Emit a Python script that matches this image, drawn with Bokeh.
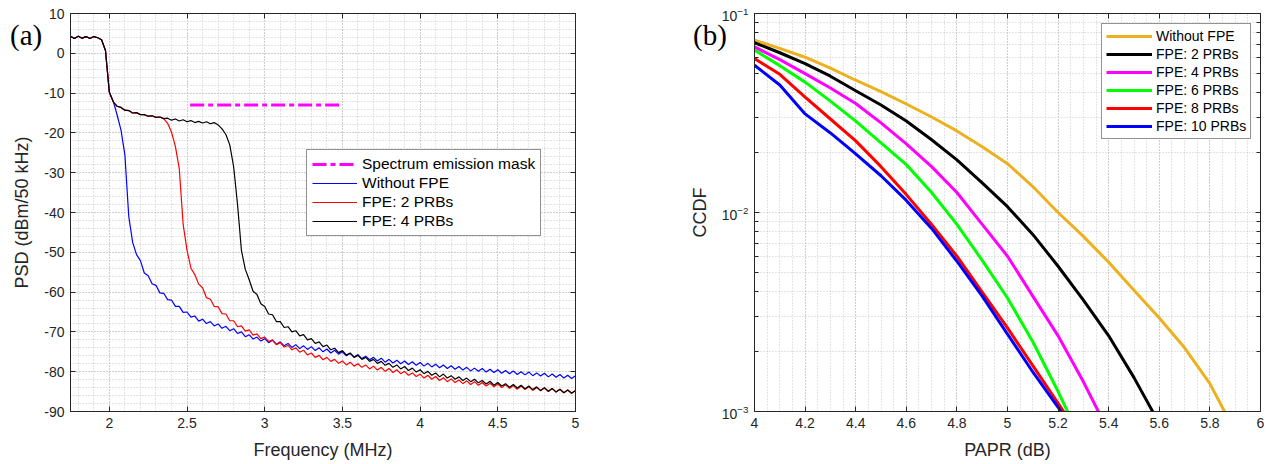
import numpy as np
from bokeh.plotting import figure
from bokeh.models import (Range1d, LinearAxis, LogAxis, SingleIntervalTicker, FixedTicker,
                          CustomJSTickFormatter, LogTickFormatter, Legend, LegendItem, Div)
from bokeh.layouts import row
from bokeh.embed import file_html
from bokeh.resources import INLINE

FONT = "Liberation Sans"
AX = "#262626"

# ---------------- (a) PSD data ----------------
freq_mhz = np.round(1.75 + 0.025 * np.arange(131), 3)

psd_without_fpe = [
    4.3, 3.7, 4.3, 3.8, 4.2, 3.7, 4.2, 3.9, 3.4, 0.7,
    -9.8, -12.0, -15.5, -19.3, -25.5, -41.0, -47.5, -50.6, -52.1, -55.2,
    -55.9, -57.9, -58.3, -60.2, -60.3, -61.9, -62.0, -63.6, -63.6, -65.1,
    -65.0, -66.3, -66.0, -67.3, -66.8, -67.9, -67.4, -68.5, -68.0, -69.1,
    -68.6, -69.7, -69.2, -70.4, -70.0, -71.2, -70.7, -71.8, -71.3, -72.3,
    -71.7, -72.7, -72.1, -73.1, -72.5, -73.5, -72.9, -73.9, -73.2, -74.2,
    -73.5, -74.4, -73.7, -74.7, -74.0, -75.0, -74.3, -75.3, -74.6, -75.6,
    -75.0, -76.0, -75.4, -76.3, -75.7, -76.7, -76.1, -77.0, -76.4, -77.3,
    -76.6, -77.6, -76.9, -77.8, -77.1, -78.0, -77.3, -78.2, -77.5, -78.4,
    -77.7, -78.6, -77.9, -78.8, -78.1, -79.0, -78.3, -79.2, -78.5, -79.4,
    -78.7, -79.6, -78.9, -79.8, -79.1, -79.9, -79.2, -80.1, -79.4, -80.2,
    -79.5, -80.4, -79.7, -80.5, -79.8, -80.7, -80.0, -80.8, -80.1, -81.0,
    -80.3, -81.1, -80.4, -81.3, -80.6, -81.4, -80.7, -81.6, -80.9, -81.7,
    -81.0,
]

psd_fpe_2prb = [
    4.3, 3.7, 4.3, 3.8, 4.2, 3.7, 4.2, 3.9, 3.4, 0.7,
    -9.8, -12.2, -13.3, -13.6, -14.3, -14.4, -15.0, -14.9, -15.4, -15.4,
    -15.8, -15.7, -16.1, -16.0, -16.4, -17.6, -19.8, -23.4, -29.0, -43.0,
    -49.5, -54.0, -55.6, -58.0, -58.9, -61.4, -61.8, -63.6, -63.7, -65.4,
    -65.5, -67.2, -67.2, -68.7, -68.5, -69.8, -69.5, -70.8, -70.5, -71.7,
    -71.3, -72.4, -72.0, -73.2, -72.7, -73.8, -73.4, -74.5, -74.0, -75.1,
    -74.6, -75.8, -75.3, -76.4, -75.9, -77.0, -76.4, -77.4, -76.9, -77.9,
    -77.3, -78.3, -77.6, -78.6, -78.0, -78.9, -78.3, -79.3, -78.6, -79.6,
    -78.9, -79.9, -79.2, -80.2, -79.5, -80.5, -79.9, -80.9, -80.3, -81.2,
    -80.6, -81.6, -80.9, -81.9, -81.2, -82.2, -81.5, -82.5, -81.8, -82.7,
    -82.1, -83.0, -82.3, -83.2, -82.5, -83.4, -82.7, -83.6, -82.9, -83.8,
    -83.1, -84.0, -83.3, -84.2, -83.5, -84.4, -83.6, -84.5, -83.8, -84.7,
    -84.0, -84.8, -84.1, -85.0, -84.3, -85.1, -84.4, -85.3, -84.6, -85.4,
    -84.7,
]

psd_fpe_4prb = [
    4.3, 3.7, 4.3, 3.8, 4.2, 3.7, 4.2, 3.9, 3.4, 0.7,
    -9.8, -12.2, -13.3, -13.6, -14.3, -14.4, -15.0, -14.9, -15.4, -15.4,
    -15.8, -15.7, -16.1, -16.0, -16.4, -16.3, -16.8, -16.5, -17.0, -16.7,
    -17.2, -16.9, -17.4, -17.1, -17.5, -17.2, -17.7, -17.4, -18.0, -19.0,
    -20.4, -23.0, -28.5, -38.0, -49.5, -54.3, -56.9, -59.8, -60.6, -62.9,
    -63.6, -65.5, -65.7, -67.4, -67.4, -68.9, -68.7, -70.0, -69.7, -71.0,
    -70.7, -72.0, -71.7, -72.9, -72.5, -73.7, -73.3, -74.5, -74.1, -75.2,
    -74.7, -75.8, -75.3, -76.4, -75.9, -76.9, -76.4, -77.4, -76.9, -77.9,
    -77.4, -78.4, -77.9, -78.9, -78.3, -79.3, -78.7, -79.7, -79.1, -80.1,
    -79.5, -80.5, -79.9, -80.9, -80.3, -81.3, -80.6, -81.6, -81.0, -81.9,
    -81.3, -82.2, -81.6, -82.5, -81.9, -82.8, -82.2, -83.1, -82.4, -83.4,
    -82.7, -83.6, -83.0, -83.9, -83.2, -84.1, -83.4, -84.3, -83.6, -84.5,
    -83.8, -84.7, -84.0, -84.9, -84.2, -85.1, -84.4, -85.3, -84.6, -85.4,
    -84.7,
]

mask_freq = [2.52, 3.5]
mask_level = [-13.0, -13.0]

# ---------------- (b) CCDF data ----------------
papr_db = [4.0, 4.1, 4.2, 4.3, 4.4, 4.5, 4.6, 4.7, 4.8, 4.9,
           5.0, 5.1, 5.2, 5.3, 5.4, 5.5, 5.6, 5.7, 5.8, 5.9]
ccdf_without_fpe = [0.0735, 0.0668, 0.0603, 0.0531, 0.0462, 0.0405, 0.0351, 0.0302, 0.0257, 0.0214,
                    0.0176, 0.0135, 0.0100, 0.00759, 0.00562, 0.00407, 0.00295, 0.00209, 0.00138, 0.00079]
ccdf_fpe_2 = [0.0713, 0.0635, 0.0560, 0.0484, 0.0409, 0.0347, 0.0288, 0.0232, 0.0184, 0.0141,
              0.0107, 0.00776, 0.00537, 0.00363, 0.00240, 0.00148, 0.00087]
ccdf_fpe_4 = [0.0679, 0.0586, 0.0499, 0.0422, 0.0353, 0.0282, 0.0221, 0.0170, 0.0126, 0.00871,
              0.00603, 0.00380, 0.00240, 0.00141, 0.00079]
ccdf_fpe_6 = [0.0655, 0.0547, 0.0452, 0.0363, 0.0288, 0.0224, 0.0174, 0.0126, 0.00871, 0.00575,
              0.00372, 0.00224, 0.00126, 0.00068]
ccdf_fpe_8 = [0.0594, 0.0495, 0.0380, 0.0295, 0.0229, 0.0170, 0.0123, 0.00871, 0.00603, 0.00398,
              0.00263, 0.00170, 0.00110, 0.00071]
ccdf_fpe_10 = [0.0550, 0.0437, 0.0313, 0.0251, 0.0197, 0.0153, 0.0115, 0.00832, 0.00569, 0.00380,
               0.00245, 0.00158, 0.00105, 0.00068]

ccdf_series = [
    ("Without FPE", ccdf_without_fpe, "#EDB120"),
    ("FPE: 2 PRBs", ccdf_fpe_2, "#000000"),
    ("FPE: 4 PRBs", ccdf_fpe_4, "#FF00FF"),
    ("FPE: 6 PRBs", ccdf_fpe_6, "#00FF00"),
    ("FPE: 8 PRBs", ccdf_fpe_8, "#FF0000"),
    ("FPE: 10 PRBs", ccdf_fpe_10, "#0000FF"),
]

ccdf_major = [0.001, 0.01, 0.1]
ccdf_minor = [m * d for d in (0.001, 0.01) for m in range(2, 10)]

panel_tags = ["(a)", "(b)"]

fmt = CustomJSTickFormatter(code="return String(Number(tick.toFixed(3)));")
blank = CustomJSTickFormatter(code="return '';")


def style_axis(ax, labels=True):
    ax.axis_line_color = AX
    ax.axis_line_width = 1
    ax.major_tick_in = 5
    ax.major_tick_out = 0
    ax.major_tick_line_color = AX
    ax.minor_tick_in = 0
    ax.minor_tick_out = 0
    ax.major_label_text_font = FONT
    ax.major_label_text_color = AX
    ax.axis_label_text_font = FONT
    ax.axis_label_text_font_size = "18px"
    ax.axis_label_text_font_style = "normal"
    ax.axis_label_text_color = AX
    if labels:
        ax.major_label_text_font_size = "14px"
        ax.major_label_standoff = 6
        ax.axis_label_standoff = 9
    else:
        ax.formatter = blank
        ax.major_label_text_font_size = "8px"
        ax.major_label_standoff = 0


def style_grid(p):
    for g in (p.xgrid[0], p.ygrid[0]):
        g.grid_line_color = "#b8b8b8"
        g.grid_line_dash = "1 2"
        g.grid_line_width = 1
        g.minor_grid_line_color = "#c8c8c8"
        g.minor_grid_line_dash = "1 2"
        g.minor_grid_line_width = 1


def style_legend(lg, size, glyph_w, pad, standoff, spacing):
    lg.label_text_font = FONT
    lg.label_text_font_size = size
    lg.label_text_color = "#000000"
    lg.glyph_width = glyph_w
    lg.glyph_height = 16
    lg.label_height = 16
    lg.spacing = spacing
    lg.padding = pad
    lg.margin = 0
    lg.label_standoff = standoff
    lg.border_line_color = AX
    lg.border_line_width = 1
    lg.background_fill_color = "white"
    lg.background_fill_alpha = 1


def tag_div(text, left, top):
    return Div(text=text, styles={
        "position": "absolute", "left": f"{left}px", "top": f"{top}px",
        "font-family": "Liberation Serif", "font-size": "29px", "line-height": "29px",
        "color": "#000000", "margin": "0", "padding": "0", "z-index": "5"})


# ---------------- figure (a) ----------------
p1 = figure(width=640, height=464, x_range=Range1d(1.75, 5), y_range=Range1d(-90, 10),
            output_backend="svg", toolbar_location=None,
            min_border_left=70, min_border_right=65, min_border_top=13, min_border_bottom=53)
p1.outline_line_color = AX
p1.add_layout(LinearAxis(), "above")
p1.add_layout(LinearAxis(), "right")
xt1 = SingleIntervalTicker(interval=0.5, num_minor_ticks=5)
yt1 = SingleIntervalTicker(interval=10, num_minor_ticks=5)
for ax in p1.xaxis:
    ax.ticker = xt1
    ax.formatter = fmt
for ax in p1.yaxis:
    ax.ticker = yt1
    ax.formatter = fmt
style_axis(p1.below[0])
style_axis(p1.left[0])
style_axis(p1.above[0], labels=False)
style_axis(p1.right[0], labels=False)
p1.below[0].axis_label = "Frequency (MHz)"
p1.left[0].axis_label = "PSD (dBm/50 kHz)"
style_grid(p1)

r_mask = p1.line(mask_freq, mask_level, line_color="#FF00FF", line_width=3, line_dash="14 4 5 4")
r_b = p1.line(freq_mhz, psd_without_fpe, line_color="#0000FF", line_width=1.2)
r_r = p1.line(freq_mhz, psd_fpe_2prb, line_color="#FF0000", line_width=1.2)
r_k = p1.line(freq_mhz, psd_fpe_4prb, line_color="#000000", line_width=1.2)

leg1 = Legend(items=[LegendItem(label="Spectrum emission mask", renderers=[r_mask]),
                     LegendItem(label="Without FPE", renderers=[r_b]),
                     LegendItem(label="FPE: 2 PRBs", renderers=[r_r]),
                     LegendItem(label="FPE: 4 PRBs", renderers=[r_k])],
              location=(236, 175))
style_legend(leg1, "15.5px", 45, 5, 5, 1)
p1.add_layout(leg1)

# ---------------- figure (b) ----------------
p2 = figure(width=632, height=464, x_range=Range1d(4, 6), y_range=Range1d(1e-3, 1e-1),
            y_axis_type="log", output_backend="svg", toolbar_location=None,
            min_border_left=114, min_border_right=12, min_border_top=13, min_border_bottom=53)
p2.outline_line_color = AX
p2.add_layout(LinearAxis(), "above")
p2.add_layout(LogAxis(), "right")
xt2 = SingleIntervalTicker(interval=0.2, num_minor_ticks=4)
yt2 = FixedTicker(ticks=ccdf_major, minor_ticks=ccdf_minor)
for ax in p2.xaxis:
    ax.ticker = xt2
    ax.formatter = fmt
for ax in p2.yaxis:
    ax.ticker = yt2
    ax.formatter = LogTickFormatter()
style_axis(p2.below[0])
style_axis(p2.left[0])
style_axis(p2.above[0], labels=False)
style_axis(p2.right[0], labels=False)
for ax in p2.yaxis:
    ax.minor_tick_in = 4
    ax.minor_tick_line_color = AX
p2.below[0].axis_label = "PAPR (dB)"
p2.left[0].axis_label = "CCDF"
style_grid(p2)

items2 = []
for name, vals, col in ccdf_series:
    r = p2.line(papr_db[:len(vals)], vals, line_color=col, line_width=3)
    items2.append(LegendItem(label=name, renderers=[r]))
leg2 = Legend(items=items2, location=(347, 272))
style_legend(leg2, "14px", 46, 4, 4, 2)
p2.add_layout(leg2)

layout = row(p1, p2, tag_div(panel_tags[0], 10, 21), tag_div(panel_tags[1], 693, 21))
open("out.html", "w").write(file_html(layout, INLINE))
